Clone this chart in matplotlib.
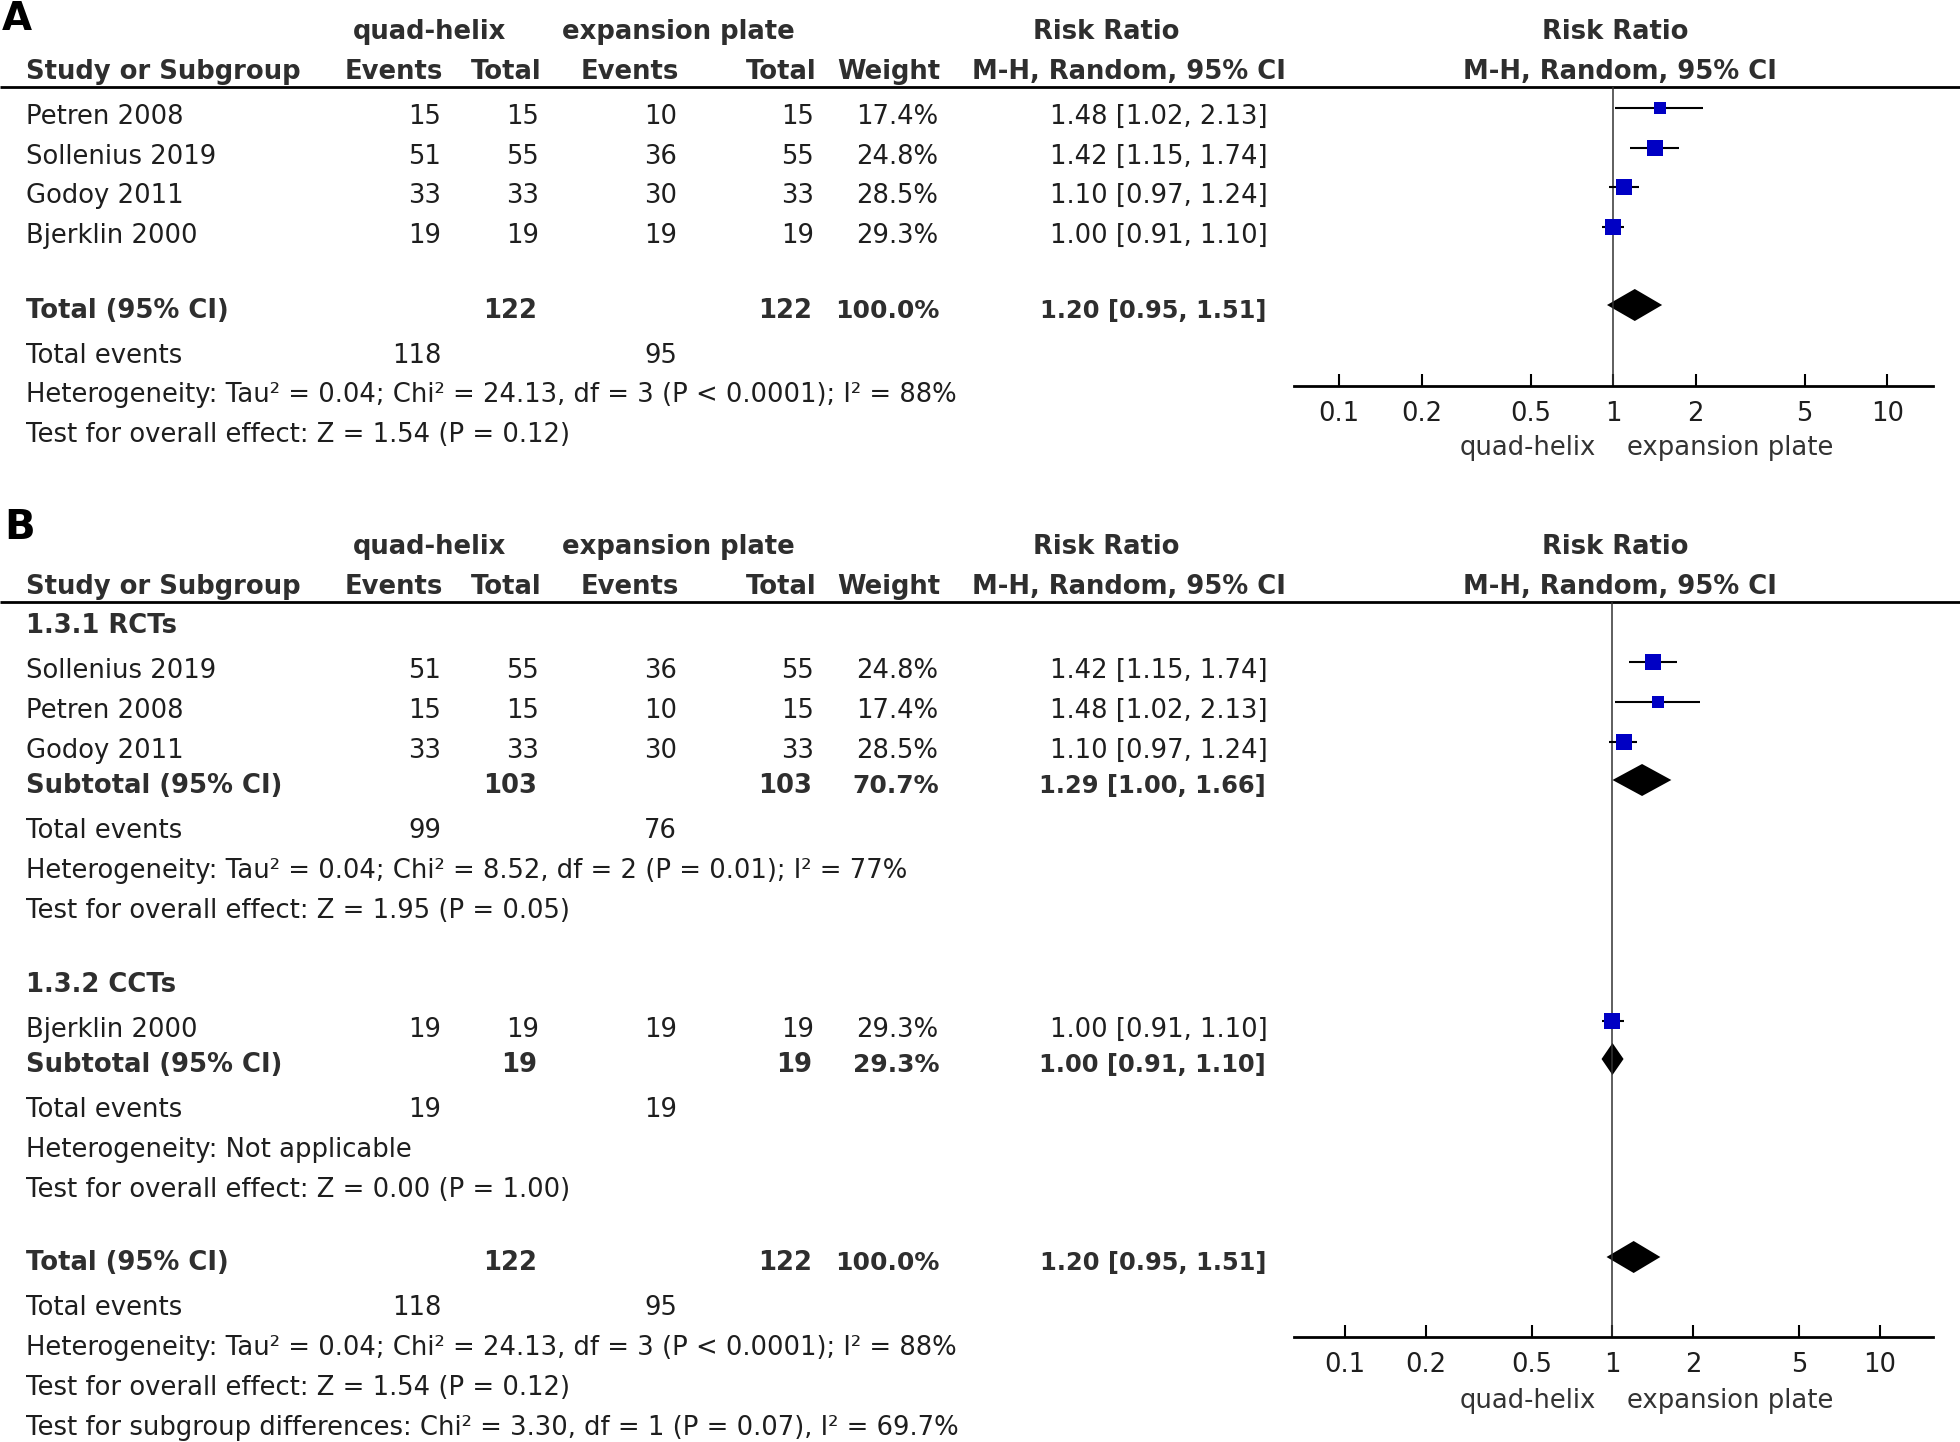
import matplotlib.pyplot as plt
import numpy as np

plt.rcParams['font.family'] = ['DejaVu Sans']

W, H = 1960, 1442

# ---------------- data ----------------
# Panel A: all studies
studies_a = ["Petren 2008", "Sollenius 2019", "Godoy 2011", "Bjerklin 2000"]
qh_events_a = [15, 51, 33, 19]
qh_total_a = [15, 55, 33, 19]
ep_events_a = [10, 36, 30, 19]
ep_total_a = [15, 55, 33, 19]
weight_a = [17.4, 24.8, 28.5, 29.3]
rr_a = [1.48, 1.42, 1.10, 1.00]
lo_a = [1.02, 1.15, 0.97, 0.91]
hi_a = [2.13, 1.74, 1.24, 1.10]

# Panel B: subgroup 1.3.1 RCTs
studies_rct = ["Sollenius 2019", "Petren 2008", "Godoy 2011"]
qh_events_rct = [51, 15, 33]
qh_total_rct = [55, 15, 33]
ep_events_rct = [36, 10, 30]
ep_total_rct = [55, 15, 33]
weight_rct = [24.8, 17.4, 28.5]
rr_rct = [1.42, 1.48, 1.10]
lo_rct = [1.15, 1.02, 0.97]
hi_rct = [1.74, 2.13, 1.24]

# Panel B: subgroup 1.3.2 CCTs
studies_cct = ["Bjerklin 2000"]
qh_events_cct = [19]
qh_total_cct = [19]
ep_events_cct = [19]
ep_total_cct = [19]
weight_cct = [29.3]
rr_cct = [1.00]
lo_cct = [0.91]
hi_cct = [1.10]

# pooled estimates: [estimate, lower, upper]
pooled_all = [1.20, 0.95, 1.51]
pooled_rct = [1.29, 1.00, 1.66]
pooled_cct = [1.00, 0.91, 1.10]

# totals: [qh total, ep total, weight, qh events, ep events]
totals_all = [122, 122, "100.0%", 118, 95]
totals_rct = [103, 103, "70.7%", 99, 76]
totals_cct = [19, 19, "29.3%", 19, 19]

het_all = "Heterogeneity: Tau² = 0.04; Chi² = 24.13, df = 3 (P < 0.0001); I² = 88%"
test_all = "Test for overall effect: Z = 1.54 (P = 0.12)"
het_rct = "Heterogeneity: Tau² = 0.04; Chi² = 8.52, df = 2 (P = 0.01); I² = 77%"
test_rct = "Test for overall effect: Z = 1.95 (P = 0.05)"
het_cct = "Heterogeneity: Not applicable"
test_cct = "Test for overall effect: Z = 0.00 (P = 1.00)"
subgroup_test = "Test for subgroup differences: Chi² = 3.30, df = 1 (P = 0.07), I² = 69.7%"

tick_vals = [0.1, 0.2, 0.5, 1, 2, 5, 10]
tick_labels = ["0.1", "0.2", "0.5", "1", "2", "5", "10"]

# ---------------- layout ----------------
FS = 18.6
TXT = '#1e1e1e'
BOLDC = '#2e2e2e'
BLUE = '#0000c4'
COL_X = [441, 539, 677, 814, 938]   # right edges of number columns
CI_X = 1268
LEFT = 26

fig = plt.figure(figsize=(W / 100, H / 100), dpi=100)
bg = fig.add_axes([0, 0, 1, 1])
bg.set_xlim(0, W)
bg.set_ylim(H, 0)
bg.axis('off')


def txt(x, y, s, ha='left', bold=False, size=FS, color=None):
    bg.text(x, y, s, ha=ha, va='baseline', fontsize=size,
            fontweight='bold' if bold else 'normal',
            color=color if color else (BOLDC if bold else TXT))


def header(off):
    txt(430, 39 + off, "quad-helix", ha='center', bold=True)
    txt(678, 39 + off, "expansion plate", ha='center', bold=True)
    txt(1106, 39 + off, "Risk Ratio", ha='center', bold=True)
    txt(1615, 39 + off, "Risk Ratio", ha='center', bold=True)
    txt(LEFT, 79 + off, "Study or Subgroup", bold=True)
    for x, s in zip(COL_X, ["Events", "Total", "Events", "Total", "Weight"]):
        txt(x + 2, 79 + off, s, ha='right', bold=True)
    txt(1129, 79 + off, "M-H, Random, 95% CI", ha='center', bold=True)
    txt(1620, 79 + off, "M-H, Random, 95% CI", ha='center', bold=True)
    bg.plot([0, W], [87 + off, 87 + off], color='black', lw=2.0,
            solid_capstyle='butt')


def forest_axes(y_top, y_axis, xlim):
    x0, x1 = 1294, 1933
    ax = fig.add_axes([x0 / W, 1 - y_axis / H, (x1 - x0) / W, (y_axis - y_top) / H])
    ax.set_xscale('log')
    ax.set_xlim(xlim)
    ax.set_ylim(y_axis, y_top)
    ax.patch.set_alpha(0)
    for sp in ['top', 'left', 'right']:
        ax.spines[sp].set_visible(False)
    ax.spines['bottom'].set_linewidth(2.0)
    ax.set_xticks(tick_vals)
    ax.set_xticklabels(tick_labels)
    ax.xaxis.set_minor_locator(plt.NullLocator())
    ax.tick_params(axis='x', direction='in', length=8.6, width=1.5,
                   pad=10.5, labelsize=FS, labelcolor=TXT)
    ax.set_yticks([])
    ax.axvline(1, color='#333333', lw=1.1)
    return ax


def study_rows(ax, ys, names, e1, t1, e2, t2, w, rr, lo, hi):
    for i, y in enumerate(ys):
        txt(LEFT, y, names[i])
        for x, v in zip(COL_X, [e1[i], t1[i], e2[i], t2[i], f"{w[i]:.1f}%"]):
            txt(x, y, str(v), ha='right')
        txt(CI_X, y, f"{rr[i]:.2f} [{lo[i]:.2f}, {hi[i]:.2f}]", ha='right')
        yc = y - 16
        ax.plot([lo[i], hi[i]], [yc, yc], color='black', lw=1.5,
                solid_capstyle='butt')
        side = 3.1 * np.sqrt(w[i])
        ax.plot(rr[i], yc, marker='s', ms=side * 0.72, color=BLUE,
                mec=BLUE, mew=0, linestyle='none')


def pooled_row(ax, y, label, totals, est):
    txt(LEFT, y, label, bold=True)
    txt(COL_X[1] - 2, y, str(totals[0]), ha='right', bold=True)
    txt(COL_X[3] - 2, y, str(totals[1]), ha='right', bold=True)
    txt(COL_X[4] + 1, y, totals[2], ha='right', bold=True, size=FS - 0.6)
    txt(CI_X - 2, y, f"{est[0]:.2f} [{est[1]:.2f}, {est[2]:.2f}]",
        ha='right', bold=True, size=FS - 1.2)
    yc = y - 13
    h = 16
    ax.fill([est[1], est[0], est[2], est[0]], [yc, yc - h, yc, yc + h],
            color='black', lw=0)


def events_row(y, totals):
    txt(LEFT, y, "Total events")
    txt(COL_X[0], y, str(totals[3]), ha='right')
    txt(COL_X[2], y, str(totals[4]), ha='right')


def side_labels(y):
    txt(1596, y, "quad-helix", ha='right', color='#333333')
    txt(1627, y, "expansion plate", ha='left', color='#333333')


# ---------------- panel A ----------------
txt(2, 30, "A", bold=True, size=28, color='black')
header(0)
ax_a = forest_axes(87, 386, (0.0685, 14.7))
study_rows(ax_a, [124, 163.5, 203, 243], studies_a, qh_events_a, qh_total_a,
           ep_events_a, ep_total_a, weight_a, rr_a, lo_a, hi_a)
pooled_row(ax_a, 318, "Total (95% CI)", totals_all, pooled_all)
events_row(363, totals_all)
txt(LEFT, 402, het_all)
txt(LEFT, 442, test_all)
side_labels(455)

# ---------------- panel B ----------------
off = 515
txt(4, 539, "B", bold=True, size=29, color='black')
header(off)
ax_b = forest_axes(87 + off, 1337, (0.0644, 15.8))
txt(LEFT, 633, "1.3.1 RCTs", bold=True)
study_rows(ax_b, [678, 718, 758], studies_rct, qh_events_rct, qh_total_rct,
           ep_events_rct, ep_total_rct, weight_rct, rr_rct, lo_rct, hi_rct)
pooled_row(ax_b, 793, "Subtotal (95% CI)", totals_rct, pooled_rct)
events_row(838, totals_rct)
txt(LEFT, 878, het_rct)
txt(LEFT, 918, test_rct)

txt(LEFT, 992, "1.3.2 CCTs", bold=True)
study_rows(ax_b, [1037], studies_cct, qh_events_cct, qh_total_cct,
           ep_events_cct, ep_total_cct, weight_cct, rr_cct, lo_cct, hi_cct)
pooled_row(ax_b, 1072, "Subtotal (95% CI)", totals_cct, pooled_cct)
events_row(1117, totals_cct)
txt(LEFT, 1157, het_cct)
txt(LEFT, 1197, test_cct)

pooled_row(ax_b, 1270, "Total (95% CI)", totals_all, pooled_all)
events_row(1315, totals_all)
txt(LEFT, 1355, het_all)
txt(LEFT, 1395, test_all)
txt(LEFT, 1435, subgroup_test)
side_labels(1408)

fig.savefig("out.png", dpi=100)
